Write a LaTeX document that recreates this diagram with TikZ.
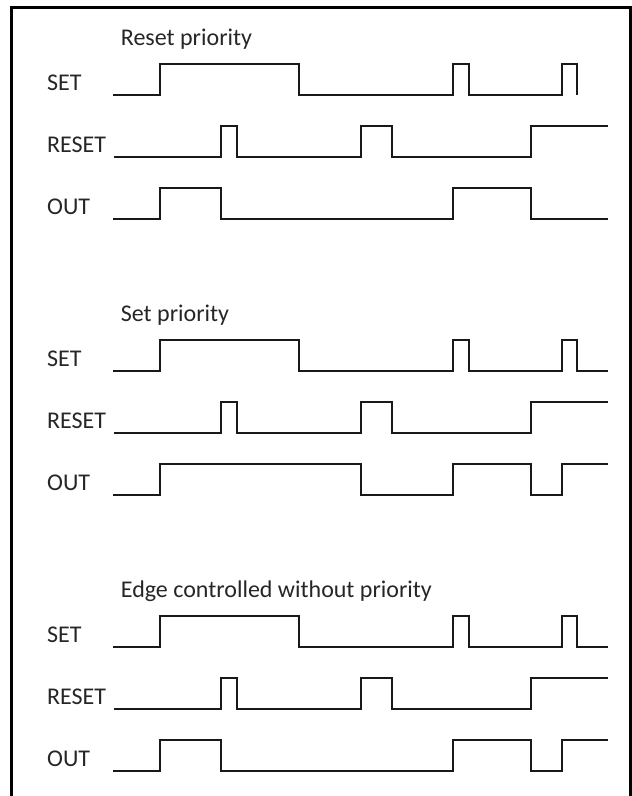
\documentclass[tikz,border=0pt]{standalone}
\usepackage{fontspec}
\setmainfont{Carlito}
\begin{document}
\begin{tikzpicture}[x=1pt,y=-1pt,
  wave/.style={line width=1.3pt, draw=black!90, line join=miter},
  lbl/.style={anchor=base west, inner sep=0pt, text=black!85, font=\fontsize{24}{28}\selectfont},
  frame/.style={line width=2.7pt, draw=black}]
\useasboundingbox (0,0) rectangle (632,796);
\draw[frame] (11.7,805) -- (11.7,7.3) -- (630.5,7.3) -- (630.5,805);
\foreach \s/\t/\oy/\setend in {1/Reset priority/0/577, 2/Set priority/276/608, 3/Edge controlled without priority/552/608} {
  \begin{scope}[shift={(0,\oy)}]
    \node[lbl] (title\s) at (120.7,45) {\t};
    \node[lbl] (set\s) at (47,90.7) {SET};
    \node[lbl] (reset\s) at (47,152.7) {RESET};
    \node[lbl] (out\s) at (47,214.7) {OUT};
    \draw[wave] (113.3,95) -| (160,64) -| (299,95) -| (453,64) -| (469,95) -| (562,64) -| (577,95) -- (\setend,95);
    \draw[wave] (113.7,157) -| (221,126) -| (237,157) -| (361,126) -| (392,157) -| (531,126) -- (608,126);
  \end{scope}
}
\draw[wave] (113.3,219) -| (160,188) -| (221,219) -| (453,188) -| (531,219) -- (608,219);
\begin{scope}[shift={(0,276)}]
\draw[wave] (113.3,219) -| (160,188) -| (361,219) -| (453,188) -| (531,219) -| (562,188) -- (608,188);
\end{scope}
\begin{scope}[shift={(0,552)}]
\draw[wave] (113.3,219) -| (160,188) -| (221,219) -| (453,188) -| (531,219) -| (562,188) -- (608,188);
\end{scope}
\end{tikzpicture}
\end{document}
